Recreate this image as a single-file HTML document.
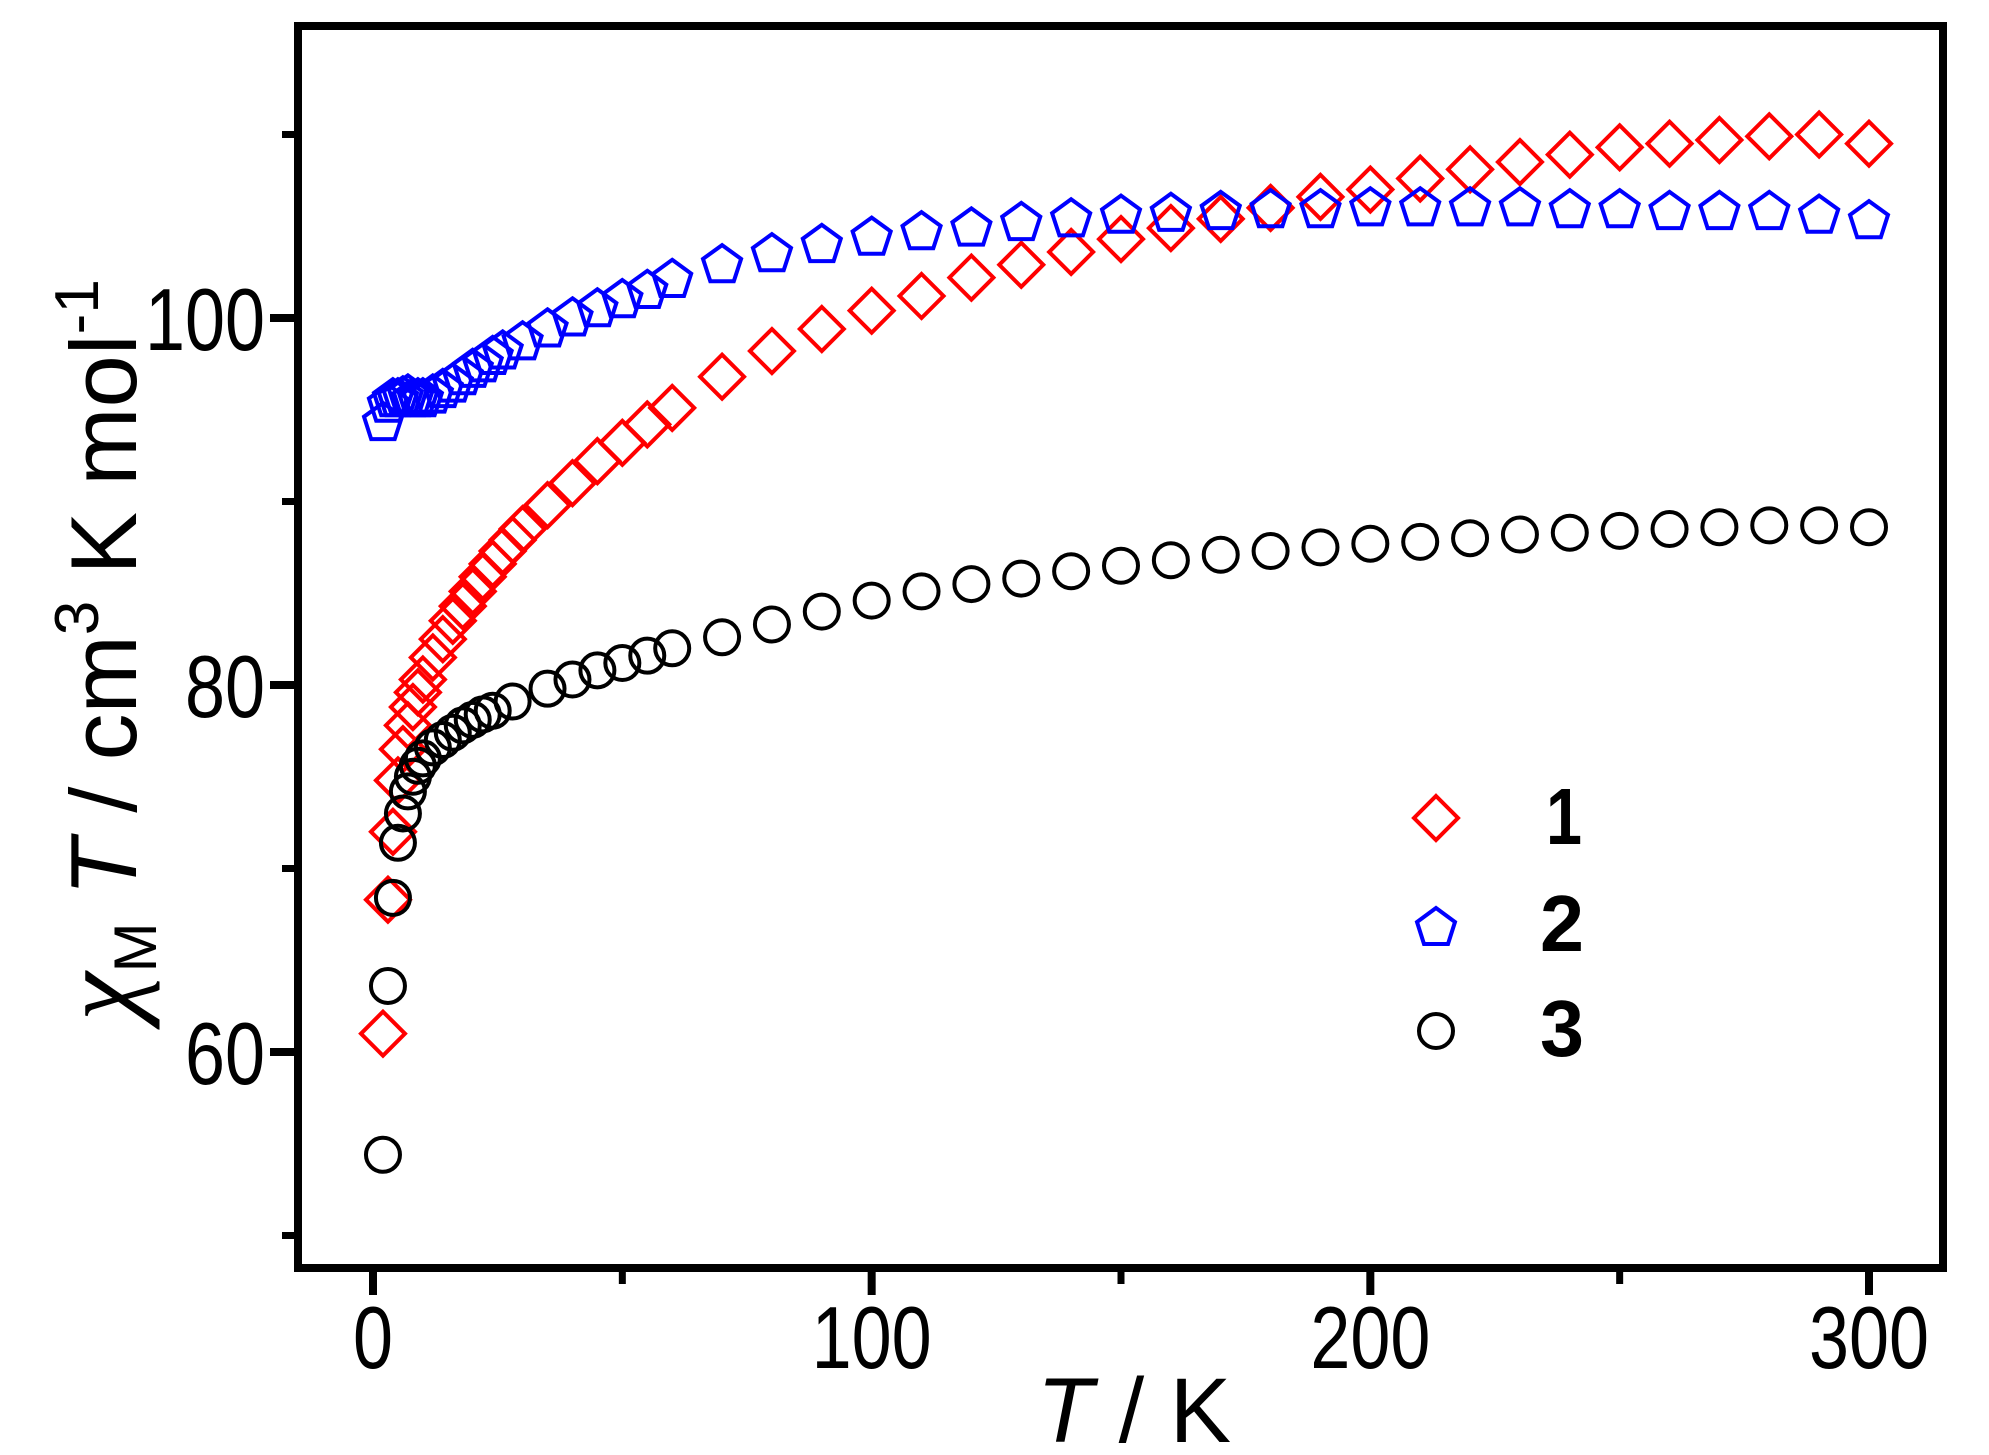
<!DOCTYPE html>
<html><head><meta charset="utf-8"><style>
html,body{margin:0;padding:0;background:#fff;}
svg{display:block;font-family:"Liberation Sans",Arial,sans-serif;}
</style></head><body>
<svg id="chart" width="1989" height="1455" viewBox="0 0 1989 1455" xmlns="http://www.w3.org/2000/svg">
<g id="marks"></g>
<rect x="298" y="26" width="1645" height="1242" fill="none" stroke="#000" stroke-width="8"/>
<g id="axes"></g>
<text transform="translate(136,650) rotate(-90)" text-anchor="middle" font-size="94"><tspan font-family="Liberation Serif,serif" font-style="italic" font-size="110">χ</tspan><tspan font-size="60" dy="20">M</tspan><tspan dy="-20" font-style="italic"> T</tspan> / cm<tspan font-size="62" dy="-38">3</tspan><tspan dy="38"> K mol</tspan><tspan font-size="62" dy="-38">-1</tspan></text>
<text x="1134" y="1442" text-anchor="middle" font-size="92"><tspan font-style="italic">T</tspan> / K</text>
<g>
<path d="M1436 796 L1458 818 L1436 840 L1414 818 Z" fill="none" stroke="#f00" stroke-width="4"/>
<text x="1546" y="844" font-size="80" font-weight="bold" textLength="36" lengthAdjust="spacingAndGlyphs">1</text>
<path d="M1436 908 L1455 922 L1448 944 L1424 944 L1417 922 Z" fill="none" stroke="#00f" stroke-width="4"/>
<text x="1540" y="951" font-size="80" font-weight="bold" textLength="44" lengthAdjust="spacingAndGlyphs">2</text>
<circle cx="1436" cy="1031" r="17" fill="none" stroke="#000" stroke-width="4"/>
<text x="1540" y="1056" font-size="80" font-weight="bold" textLength="44" lengthAdjust="spacingAndGlyphs">3</text>
</g>
</svg>
<script>
const xMajor=[0,100,200,300];
const xMinor=[50,150,250];
const yMajor=[60,80,100];
const yMinor=[50,70,90,110];
const t1=[2,3,4,5,6,7,8,9,10,12,14,16,18,20,22,24,26,28,30,35,40,45,50,55,60,70,80,90,100,110,120,130,140,150,160,170,180,190,200,210,220,230,240,250,260,270,280,290,300];
const v1=[61,68.3,72,74.8,76.5,77.8,78.8,79.6,80.3,81.5,82.5,83.5,84.3,85.1,85.9,86.6,87.3,87.9,88.5,89.8,91,92.2,93.2,94.2,95.1,96.8,98.2,99.4,100.4,101.2,102.2,102.9,103.6,104.3,104.9,105.4,106,106.6,107,107.6,108.1,108.5,108.9,109.3,109.5,109.7,109.9,110,109.5];
const t2=[2,3,4,5,6,7,8,9,10,12,14,16,18,20,22,24,26,30,35,40,45,50,55,60,70,80,90,100,110,120,130,140,150,160,170,180,190,200,210,220,230,240,250,260,270,280,290,300];
const v2=[94.5,95.5,95.8,95.8,95.9,96,95.8,95.8,95.8,96,96.3,96.6,97,97.4,97.7,98.1,98.4,98.9,99.6,100.2,100.7,101.2,101.7,102.3,103.1,103.7,104.2,104.6,104.9,105.1,105.4,105.6,105.8,105.9,106,106.1,106.1,106.2,106.2,106.2,106.2,106.1,106.1,106,106,106,105.8,105.5];
const t3=[2,3,4,5,6,7,8,9,10,12,14,16,18,20,22,24,28,35,40,45,50,55,60,70,80,90,100,110,120,130,140,150,160,170,180,190,200,210,220,230,240,250,260,270,280,290,300];
const v3=[54.4,63.6,68.4,71.4,73,74.2,75,75.6,76,76.6,77,77.4,77.8,78.1,78.4,78.6,79.1,79.8,80.3,80.8,81.2,81.6,82,82.6,83.3,84,84.6,85.1,85.5,85.8,86.2,86.5,86.8,87.1,87.3,87.5,87.7,87.8,88,88.2,88.3,88.4,88.5,88.6,88.7,88.7,88.6];
const NS='http://www.w3.org/2000/svg';
function X(t){return 373+t*(1869-373)/300;}
function Y(v){return 318+(100-v)*18.35;}
const axes=document.getElementById('axes');
const marks=document.getElementById('marks');
function mk(tag,attrs,parent){const e=document.createElementNS(NS,tag);for(const k in attrs)e.setAttribute(k,attrs[k]);parent.appendChild(e);return e;}
xMajor.forEach(t=>{
 const l=mk('line',{x1:X(t),x2:X(t),y1:1268,y2:1295,stroke:'#000','stroke-width':8},axes);
 
 
 const tx=mk('text',{x:X(t),y:1368,'text-anchor':'middle','font-size':88,textLength:String(t).length*40,lengthAdjust:'spacingAndGlyphs'},axes);
 tx.textContent=t;
 
 
});
xMinor.forEach(t=>{
 const l=mk('line',{x1:X(t),x2:X(t),y1:1268,y2:1284,stroke:'#000','stroke-width':7},axes);
 
 
});
yMajor.forEach(v=>{
 const l=mk('line',{x1:270,x2:298,y1:Y(v),y2:Y(v),stroke:'#000','stroke-width':8},axes);
 
 
 const tx=mk('text',{x:265,y:Y(v)+32,'text-anchor':'end','font-size':88,textLength:String(v).length*40,lengthAdjust:'spacingAndGlyphs'},axes);
 tx.textContent=v;
 
 
});
yMinor.forEach(v=>{
 const l=mk('line',{x1:282,x2:298,y1:Y(v),y2:Y(v),stroke:'#000','stroke-width':7},axes);
 
 
});
t1.forEach((t,i)=>{
 const x=X(t),y=Y(v1[i]);
 const p=mk('path',{d:`M${x} ${y-22} L${x+22} ${y} L${x} ${y+22} L${x-22} ${y} Z`,fill:'none',stroke:'#f00','stroke-width':4},marks);
 
 
});
t2.forEach((t,i)=>{
 const x=X(t),y=Y(v2[i]);
 const pts=[];for(let k=0;k<5;k++){const a=-Math.PI/2+k*2*Math.PI/5;pts.push((x+20*Math.cos(a)).toFixed(1)+','+(y+4+20*Math.sin(a)).toFixed(1));}
 const p=mk('polygon',{points:pts.join(' '),fill:'none',stroke:'#00f','stroke-width':4},marks);
 
 
});
t3.forEach((t,i)=>{
 const c=mk('circle',{cx:X(t),cy:Y(v3[i]),r:17,fill:'none',stroke:'#000','stroke-width':4},marks);
 
 
});
</script>
</body></html>
